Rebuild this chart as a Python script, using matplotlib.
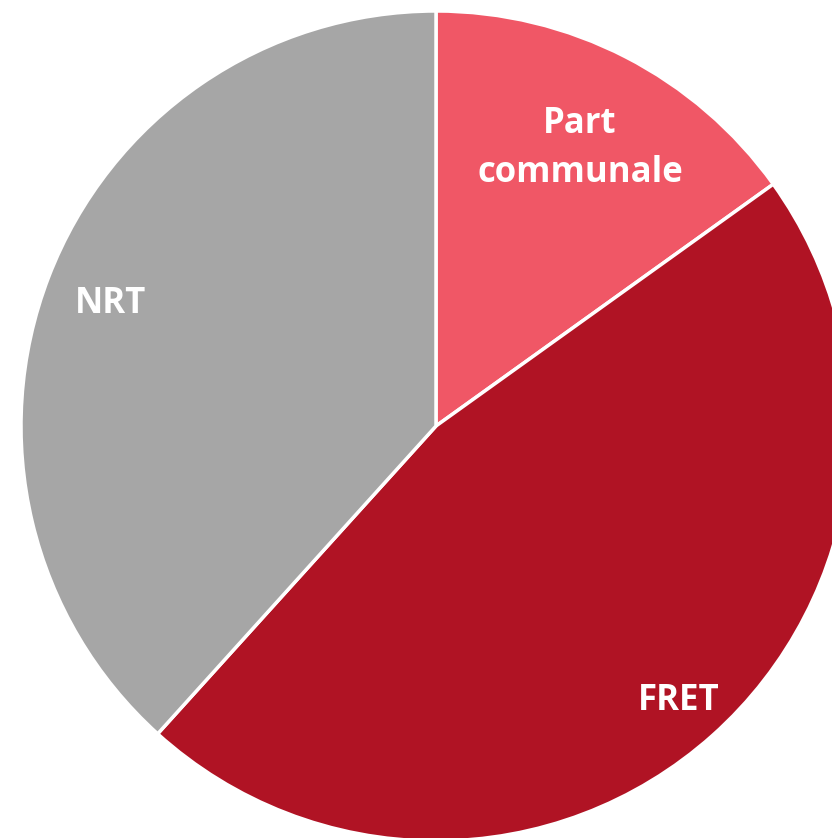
import numpy as np
import matplotlib
matplotlib.use("Agg")
import matplotlib.pyplot as plt

# slice data (clockwise from the top)
labels = ["Part\ncommunale", "FRET", "NRT"]
shares = [15.1, 46.6, 38.3]
colors = ["#F05766", "#B01324", "#A6A6A6"]

# label placement, as a fraction of the radius
label_dist = [0.76, 0.88, 0.84]

fig = plt.figure(figsize=(8.32, 8.38), dpi=100)
ax = fig.add_axes([0, 0, 1, 1])

cx, cy, r = 436, 412, 415
wedges, texts = ax.pie(
    shares, labels=labels, colors=colors, startangle=90, counterclock=False,
    center=(cx, cy), radius=r, labeldistance=0.8, frame=True,
    wedgeprops=dict(edgecolor="white", linewidth=2.5),
    textprops=dict(color="white", fontsize=25, fontweight="bold",
                   family="Open Sans", ha="center", va="center",
                   linespacing=1.5),
)
ax.set_xlim(0, 832)
ax.set_ylim(0, 838)
ax.set_aspect("equal")
ax.axis("off")

for w, t, d in zip(wedges, texts, label_dist):
    mid = np.deg2rad((w.theta1 + w.theta2) / 2)
    # small downward nudge so the text sits like the original
    t.set_position((cx + d * r * np.cos(mid), cy + d * r * np.sin(mid) - 3))
    t.set_ha("center")
    t.set_va("center")

fig.savefig("out.png", dpi=100)
